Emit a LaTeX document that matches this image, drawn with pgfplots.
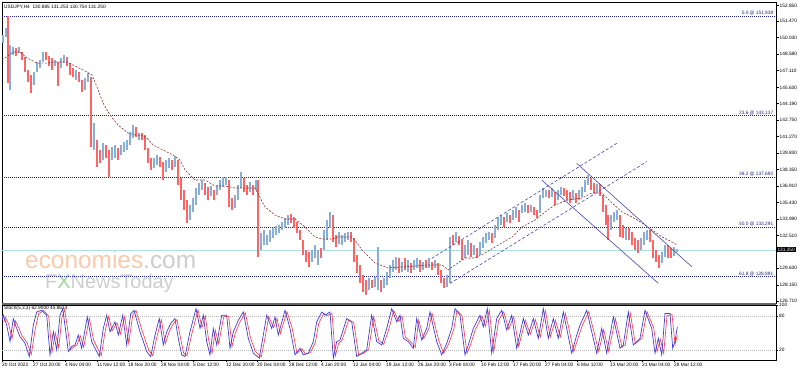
\documentclass[border=0pt]{standalone}
\usepackage{pgfplots}
\pgfplotsset{compat=1.18}
\usepackage{pgfplotstable}
\usepackage{fontspec}
\setmainfont{Liberation Sans}
\definecolor{upc}{RGB}{135,175,218}
\definecolor{dnc}{RGB}{255,100,100}
\definecolor{fibc}{RGB}{35,35,140}
\definecolor{chc}{RGB}{70,70,180}
\definecolor{mac}{RGB}{140,45,45}
\definecolor{pricec}{RGB}{176,224,230}
\definecolor{kc}{RGB}{60,60,225}
\definecolor{dc}{RGB}{255,70,70}
\definecolor{ecoc}{RGB}{250,200,170}
\definecolor{wmgray}{RGB}{205,205,205}
\newcommand{\tf}{\fontsize{4.8}{5.5}\selectfont}

\pgfplotstableread{
x lo hi
3 149.55 150.26
6 150.08 150.88
10 145.40 149.38
13 148.49 149.20
19 148.67 149.20
34 145.84 146.99
37 146.99 147.87
40 147.34 148.05
43 147.87 148.76
55 147.52 148.05
61 147.34 148.23
64 147.78 148.49
76 146.28 147.17
85 145.40 146.46
88 146.10 146.90
94 140.09 142.48
103 139.21 140.71
112 139.21 140.36
115 139.38 140.53
121 139.65 140.53
124 139.91 140.80
127 140.09 140.98
130 140.53 141.68
133 141.15 142.30
139 140.98 141.59
154 138.50 139.38
157 138.77 139.65
166 138.15 139.21
169 138.50 139.38
175 138.59 139.56
190 133.90 135.23
193 134.61 135.85
196 135.23 136.73
199 136.11 137.17
202 136.55 137.44
211 136.02 136.91
217 136.11 137.00
220 136.55 137.44
223 136.82 137.70
226 137.00 137.70
235 134.96 136.11
238 135.67 137.00
241 136.73 138.15
250 136.38 137.26
256 136.55 137.44
261 131.25 132.75
264 131.69 133.02
267 131.69 132.58
270 131.96 133.02
273 132.31 133.19
276 132.58 133.37
279 132.75 133.46
282 133.02 133.72
285 133.19 134.08
288 133.46 134.34
312 130.19 131.25
315 130.54 131.69
318 129.92 131.25
324 131.25 133.02
327 132.13 133.90
330 133.19 134.61
339 131.78 132.84
342 131.69 132.58
345 131.96 132.75
348 132.13 132.84
369 127.71 128.77
375 127.98 128.86
378 127.71 131.51
384 127.89 128.77
387 128.15 129.30
390 128.77 129.92
393 129.30 130.36
396 129.48 130.63
402 129.30 130.19
408 129.30 130.36
414 129.48 130.36
417 129.66 130.54
423 129.48 130.19
429 129.66 130.54
435 129.66 130.36
447 127.98 129.04
450 128.33 132.40
456 131.96 132.84
465 130.54 131.69
468 130.81 132.13
474 130.81 131.69
480 130.81 131.96
483 131.43 132.40
486 131.87 132.75
489 132.13 132.84
495 132.31 133.46
498 133.02 134.17
501 133.46 134.34
507 133.72 134.52
513 133.90 134.79
516 134.08 135.05
522 134.52 135.23
525 134.61 135.40
531 134.61 135.23
540 134.52 136.11
543 135.85 136.73
546 135.94 136.55
552 135.94 136.73
558 135.67 136.55
561 136.11 136.82
573 135.67 136.55
579 135.67 136.55
582 135.94 136.82
585 136.38 137.44
588 137.00 137.88
597 136.38 137.08
611 133.02 134.34
614 133.72 134.61
617 133.90 134.79
626 132.13 133.19
641 131.25 132.31
644 131.69 132.84
647 132.13 133.02
662 130.10 131.07
665 130.63 131.69
674 130.72 131.51
677 131.07 131.34
}\uptab

\pgfplotstableread{
x lo hi
8 146.02 151.94
16 148.40 149.11
22 148.05 148.76
25 146.99 148.31
28 146.10 147.17
31 145.13 146.72
46 148.05 148.76
49 147.52 148.40
52 147.17 148.23
58 145.75 147.87
67 147.52 148.31
70 146.72 147.78
73 146.55 147.34
79 146.10 146.99
82 145.22 146.28
91 140.36 146.55
97 138.59 140.98
100 138.94 140.09
106 139.38 140.53
109 137.70 140.09
118 139.21 140.27
136 141.24 142.12
142 140.98 141.59
145 140.09 141.42
148 138.94 140.27
151 138.32 139.38
160 138.59 139.47
163 137.44 139.03
172 138.32 139.21
178 137.00 139.21
181 135.67 137.61
184 134.79 136.55
187 133.64 135.67
205 136.11 137.17
208 135.67 136.82
214 135.67 136.55
229 135.05 137.44
232 134.79 135.85
244 136.38 137.61
247 136.11 137.00
253 136.11 137.00
258 130.63 137.44
291 133.64 134.43
294 133.19 134.17
297 132.75 133.72
300 132.13 133.02
303 130.81 132.13
306 130.19 131.25
309 129.75 131.07
321 130.54 131.43
333 131.96 134.34
336 131.51 132.58
351 131.96 132.84
354 130.19 132.31
357 129.21 130.81
360 128.33 129.92
363 127.54 129.04
366 127.27 128.60
372 127.89 128.60
381 127.54 128.60
399 129.21 130.54
405 129.48 130.54
411 129.21 130.10
420 129.30 130.36
426 129.66 130.36
432 129.48 130.19
438 129.04 130.10
441 128.33 129.48
444 127.89 128.77
453 131.69 132.58
459 131.69 132.49
462 130.36 132.13
471 130.63 131.87
477 130.54 131.43
492 131.87 132.75
504 133.28 134.17
510 133.64 134.34
519 133.72 134.79
528 134.52 135.23
534 134.34 135.05
537 134.08 134.79
549 135.85 136.55
555 135.23 136.38
564 136.02 136.73
567 135.67 136.55
570 135.40 136.38
576 135.40 136.29
591 136.55 137.61
594 136.29 137.17
600 136.02 137.08
603 134.61 136.11
606 133.46 135.23
608 132.13 134.34
620 132.40 134.34
623 132.31 133.46
629 132.13 133.19
632 131.69 132.84
635 131.25 132.31
638 130.98 132.13
650 131.96 133.02
653 130.54 132.13
656 130.19 131.25
659 129.66 130.81
668 130.54 131.69
671 130.54 131.43
}\dntab

\pgfplotstableread{
x v
2 72.9
3.3 81.8
6.7 64.1
10 34.7
13.3 75.9
16.7 58.2
20 43.5
25 31.8
29.3 8.2
33.3 64.1
36.7 87.6
41.7 90.6
46.7 81.8
50 11.2
53.3 52.4
56.7 20
60 81.8
62.7 93.5
66.7 40.6
68.3 17.1
71.7 25.9
75 28.8
78.3 46.5
81.7 22.9
87.3 78.8
91.7 34.7
96.7 17.1
99.3 8.2
103.3 58.2
106.7 81.8
110 52.4
115 70
118.3 46.5
122.7 81.8
126.7 28.8
130.7 84.7
134 90.6
140 52.4
146.7 17.1
150.7 8.2
155 46.5
159.3 75.9
163.3 28.8
166.7 52.4
170.7 67
175 75.9
178.3 40.6
181.7 11.2
185 8.2
190 52.4
196 93.5
200 58.2
203.3 81.8
206.7 34.7
210 11.2
213.3 58.2
216.7 28.8
221.7 81.8
226.7 81.8
230 22.9
233.3 52.4
238.3 72.9
243.3 87.6
248.3 40.6
253.3 14.1
259.3 5.3
263.3 46.5
266.7 81.8
271.7 58.2
275 78.8
278.3 46.5
285 90.6
290 58.2
295 11.2
300 22.9
303.3 11.2
308.3 14.1
313.3 34.7
316.7 70
321.7 87.6
325 81.8
330 87.6
333.3 5.3
336.7 34.7
340 37.6
346.7 75.9
351.7 70
356.7 8.2
361.7 14.1
366.7 20
371.7 81.8
376.7 34.7
381.7 28.8
386.7 58.2
391.7 93.5
396.7 70
400 81.8
403.3 40.6
408.3 34.7
413.3 22.9
416.7 75.9
421.7 37.6
426.7 58.2
430 87.6
436.7 34.7
441.7 11.2
446.7 31.8
451.7 58.2
455 93.5
460 81.8
465 11.2
468.3 28.8
473.3 58.2
480 81.8
483.3 61.2
487.3 93.5
491.7 14.1
496.7 75.9
501.7 90.6
506.7 55.3
511.7 81.8
516.7 22.9
523.3 75.9
528.3 46.5
533.3 75.9
538.3 40.6
543.3 93.5
548.3 40.6
553.3 75.9
558.3 40.6
563.3 87.6
566.7 58.2
571.7 14.1
576.7 46.5
580 64.1
586.7 90.6
591.7 52.4
596.7 14.1
601.7 58.2
606.7 14.1
613.3 78.8
620 22.9
623.3 28.8
628.3 87.6
633.3 28.8
640 40.6
645 90.6
651.7 58.2
655 14.1
658.3 40.6
661.7 11.2
665 84.7
670 84.7
672.7 22.9
675 34.7
677.3 61.2
}\ktab

\pgfplotstableread{
x v
4 70
5.3 78
8.7 66
12 40
15.3 72
18.7 60
22 45
27 33
31.3 12
35.3 58
38.7 85
43.7 90
48.7 80
52 16
55.3 50
58.7 24
62 78
64.7 92
68.7 44
70.3 20
73.7 25
77 29
80.3 45
83.7 25
89.3 76
93.7 37
98.7 19
101.3 10
105.3 55
108.7 80
112 54
117 68
120.3 48
124.7 79
128.7 32
132.7 82
136 90
142 55
148.7 20
152.7 10
157 44
161.3 74
165.3 31
168.7 50
172.7 65
177 74
180.3 43
183.7 14
187 10
192 50
198 91
202 60
205.3 80
208.7 37
212 14
215.3 55
218.7 31
223.7 79
228.7 80
232 26
235.3 50
240.3 71
245.3 86
250.3 43
255.3 17
261.3 8
265.3 44
268.7 79
273.7 60
277 76
280.3 49
287 88
292 60
297 14
302 22
305.3 13
310.3 15
315.3 33
318.7 67
323.7 85
327 81
332 85
335.3 9
338.7 32
342 37
348.7 73
353.7 69
358.7 11
363.7 14
368.7 21
373.7 79
378.7 37
383.7 30
388.7 56
393.7 90
398.7 71
402 80
405.3 43
410.3 35
415.3 25
418.7 73
423.7 40
428.7 57
432 85
438.7 37
443.7 14
448.7 31
453.7 56
457 90
462 81
467 14
470.3 28
475.3 56
482 80
485.3 62
489.3 90
493.7 17
498.7 73
503.7 88
508.7 57
513.7 79
518.7 26
525.3 73
530.3 48
535.3 74
540.3 43
545.3 90
550.3 43
555.3 73
560.3 43
565.3 85
568.7 60
573.7 17
578.7 45
582 62
588.7 88
593.7 54
598.7 17
603.7 56
608.7 17
615.3 76
622 25
625.3 29
630.3 85
635.3 31
642 41
647 88
653.7 59
657 17
660.3 39
663.7 14
667 81
672 83
675 30
677.3 45.9
}\dtab

\begin{document}
\begin{tikzpicture}[x=1bp,y=1bp]
\useasboundingbox (0,0) rectangle (798,372);
% watermark
\node[anchor=base west, inner sep=0, font=\fontsize{24.5}{26}\selectfont] at (25,104) {\textcolor{ecoc}{economies}\textcolor{wmgray}{.com}};
\node[anchor=base west, inner sep=0, font=\fontsize{20}{22}\selectfont, text=wmgray] at (45,84) {F\textcolor{green!25!wmgray}{X}NewsToday};

\begin{axis}[
  name=main,
  at={(2bp,69bp)}, anchor=south west,
  scale only axis, width=774bp, height=301bp,
  xmin=2, xmax=776, ymin=126.56, ymax=153.18,
  axis line style={black, line width=0.8bp},
  xtick=\empty,
  ytick={152.85,151.47,150.03,148.58,147.11,145.63,144.19,142.75,141.27,139.83,138.35,136.91,135.43,133.99,132.51,129.63,128.15,126.71},
  yticklabels={152.850,151.470,150.030,148.580,147.110,145.630,144.190,142.750,141.270,139.830,138.350,136.910,135.430,133.990,132.510,129.630,128.150,126.710},
  ytick pos=right, yticklabel pos=right,
  tick align=outside, major tick length=2.5bp,
  tick style={black, line width=0.5bp},
  yticklabel style={font=\tf, inner sep=1bp},
  clip mode=individual,
]
% Fibonacci levels
\addplot[fibc, line width=0.6bp, dash pattern=on 1bp off 1bp] coordinates {(2,151.939) (776,151.939)};
\addplot[fibc, line width=0.6bp, dash pattern=on 1bp off 1bp] coordinates {(2,143.137) (776,143.137)};
\addplot[fibc, line width=0.6bp, dash pattern=on 1bp off 1bp] coordinates {(2,137.692) (776,137.692)};
\addplot[fibc, line width=0.6bp, dash pattern=on 1bp off 1bp] coordinates {(2,133.291) (776,133.291)};
\addplot[fibc, line width=0.6bp, dash pattern=on 1bp off 1bp] coordinates {(2,128.891) (776,128.891)};
% current price
\addplot[pricec, line width=0.8bp] coordinates {(2,131.25) (776,131.25)};
% candles (high-low bars)
\addplot[draw=none, mark=none, error bars/.cd, y dir=plus, y explicit, error mark=none, error bar style={draw=upc, line width=1.3bp}]
  table[x=x, y=lo, y error expr=\thisrow{hi}-\thisrow{lo}] {\uptab};
\addplot[draw=none, mark=none, error bars/.cd, y dir=plus, y explicit, error mark=none, error bar style={draw=dnc, line width=1.3bp}]
  table[x=x, y=lo, y error expr=\thisrow{hi}-\thisrow{lo}] {\dntab};
% moving average
\addplot[mac, line width=0.6bp, dash pattern=on 2bp off 1.5bp] coordinates {
(2,148.05) (13,148.76) (20,148.76) (27,148.23) (37,147.78) (47,147.78) (53,147.87) (67,147.87)
(73,147.61) (87,146.99) (92,146.72) (97,145.66) (103,144.25) (110,143.19) (118,142.30) (128,141.59)
(135,141.42) (140,141.42) (147,141.15) (153,140.53) (163,140.09) (173,139.65) (180,139.21) (185,138.32)
(195,137.44) (205,137.44) (215,136.91) (225,136.91) (235,136.73) (255,136.73) (265,135.05) (275,134.34)
(285,133.99) (295,133.99) (305,133.28) (315,132.40) (322,132.22) (332,132.22) (338,132.40) (352,132.40)
(355,132.13) (362,131.25) (365,130.98) (375,130.10) (388,129.66) (402,129.75) (415,129.83) (428,129.92)
(442,129.92) (448,129.48) (455,129.92) (465,130.54) (475,130.54) (485,130.98) (495,131.51) (512,132.40)
(522,133.28) (535,133.90) (545,134.61) (555,135.23) (568,135.67) (582,135.85) (592,136.29) (602,136.29)
(612,135.40) (622,134.61) (632,134.17) (642,133.64) (652,133.02) (662,132.40) (672,131.96) (677,131.69)};
% channels
\addplot[chc, line width=0.6bp, dash pattern=on 3bp off 2bp] coordinates {(431.7,130.51) (616.7,140.68)};
\addplot[chc, line width=0.6bp, dash pattern=on 3bp off 2bp] coordinates {(450,128.30) (646.7,139.06)};
\addplot[chc, line width=0.6bp] coordinates {(576.7,138.91) (691.7,129.77)};
\addplot[chc, line width=0.6bp] coordinates {(541.7,137.44) (658.3,128.30)};
% labels
\node[anchor=south east, inner sep=0.6bp, text=fibc, font=\tf] at (axis cs:774,151.939) {0.0 @ 151.939};
\node[anchor=south east, inner sep=0.6bp, text=fibc, font=\tf] at (axis cs:774,143.137) {23.6 @ 143.137};
\node[anchor=south east, inner sep=0.6bp, text=fibc, font=\tf] at (axis cs:774,137.692) {38.2 @ 137.692};
\node[anchor=south east, inner sep=0.6bp, text=fibc, font=\tf] at (axis cs:774,133.291) {50.0 @ 133.291};
\node[anchor=south east, inner sep=0.6bp, text=fibc, font=\tf] at (axis cs:774,128.891) {61.8 @ 128.891};
\node[anchor=west, fill=black, text=white, inner sep=0.8bp, font=\tf] at (axis cs:776.5,131.25) {131.250};
\node[anchor=north west, inner sep=0, font=\tf] at (axis cs:4,152.95) {USDJPY,H4\ \ 130.885 131.253 130.754 131.250};
\end{axis}

\begin{axis}[
  name=stoch,
  at={(2bp,12bp)}, anchor=south west,
  scale only axis, width=774bp, height=55bp,
  xmin=2, xmax=776, ymin=2, ymax=100,
  axis line style={black, line width=0.8bp},
  ytick={0,20,80,100}, yticklabels={0,20,80,100},
  ytick pos=right, yticklabel pos=right,
  xtick={2,33,65,97,128,161,193,226,257,289,321,353,386,418,449,481,513,545,577,610,642,674},
  xticklabels={20 Oct 2022,27 Oct 20:00,4 Nov 04:00,11 Nov 12:00,18 Nov 20:00,28 Nov 04:00,5 Dec 12:00,12 Dec 20:00,20 Dec 04:00,28 Dec 12:00,4 Jan 20:00,12 Jan 04:00,19 Jan 12:00,26 Jan 20:00,3 Feb 04:00,10 Feb 12:00,17 Feb 20:00,27 Feb 04:00,6 Mar 12:00,13 Mar 20:00,21 Mar 04:00,28 Mar 12:00},
  xtick pos=bottom,
  tick align=outside, major tick length=2bp,
  tick style={black, line width=0.5bp},
  yticklabel style={font=\tf, inner sep=1bp},
  xticklabel style={font=\tf, anchor=north west, inner sep=0.5bp, xshift=-0.5bp},
  clip mode=individual,
]
\addplot[gray!55, line width=0.5bp, dash pattern=on 1bp off 1bp] coordinates {(2,80) (776,80)};
\addplot[gray!55, line width=0.5bp, dash pattern=on 1bp off 1bp] coordinates {(2,20) (776,20)};
\addplot[dc, line width=0.7bp] table[x=x, y=v] {\dtab};
\addplot[kc, line width=0.7bp] table[x=x, y=v] {\ktab};
\node[anchor=north west, inner sep=0, font=\tf] at (axis cs:4,99) {Stoch(5,3,3) 62.9000 45.8614};
\end{axis}
\fill[black!60] (2,67) rectangle (776,69.5);
\end{tikzpicture}
\end{document}
